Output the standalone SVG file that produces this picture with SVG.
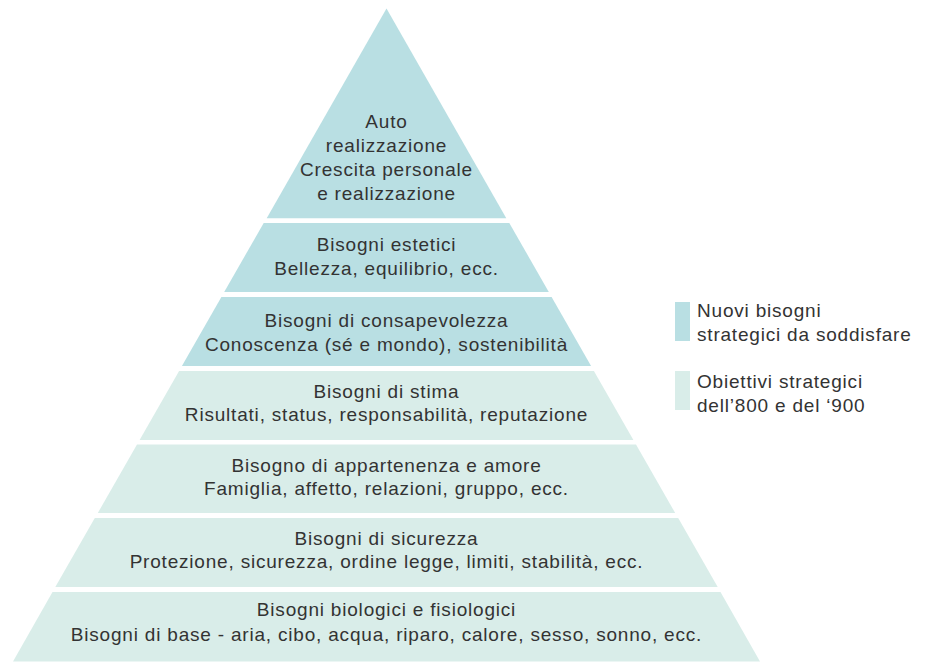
<svg xmlns="http://www.w3.org/2000/svg" width="927" height="668" viewBox="0 0 927 668">
<style>
.dark{fill:#b9dfe3}
.light{fill:#d9ede9}
text{font-family:"Liberation Sans",Arial,sans-serif;font-size:19px;letter-spacing:0.8px;fill:#333;text-anchor:middle}
.leg{text-anchor:start}
</style>
<rect width="927" height="668" fill="#fff"/>
<g id="level7-top">
<polygon class="dark" points="386.5,8.5 506.3,218.3 266.7,218.3"/>
<text x="386.5" y="128">Auto</text>
<text x="386.5" y="152">realizzazione</text>
<text x="386.5" y="176">Crescita personale</text>
<text x="386.5" y="200">e realizzazione</text>
</g>
<g id="level6-estetici">
<polygon class="dark" points="263.7,223 509.3,223 548.8,292 224.2,292"/>
<text x="386.5" y="251">Bisogni estetici</text>
<text x="386.5" y="275">Bellezza, equilibrio, ecc.</text>
</g>
<g id="level5-consapevolezza">
<polygon class="dark" points="221.4,297 551.6,297 591.1,366 181.9,366"/>
<text x="386.5" y="327">Bisogni di consapevolezza</text>
<text x="386.5" y="351">Conoscenza (sé e mondo), sostenibilità</text>
</g>
<g id="level4-stima">
<polygon class="light" points="179.1,371 593.9,371 633.4,440 139.6,440"/>
<text x="386.5" y="398">Bisogni di stima</text>
<text x="386.5" y="421">Risultati, status, responsabilità, reputazione</text>
</g>
<g id="level3-appartenenza">
<polygon class="light" points="137,444.5 636,444.5 675.2,513 97.8,513"/>
<text x="386.5" y="472">Bisogno di appartenenza e amore</text>
<text x="386.5" y="495">Famiglia, affetto, relazioni, gruppo, ecc.</text>
</g>
<g id="level2-sicurezza">
<polygon class="light" points="94.8,518 678.2,518 717.7,587 55.3,587"/>
<text x="386.5" y="545">Bisogni di sicurezza</text>
<text x="386.5" y="568">Protezione, sicurezza, ordine legge, limiti, stabilità, ecc.</text>
</g>
<g id="level1-biologici">
<polygon class="light" points="52.5,592 720.5,592 760,661.5 13,661.5"/>
<text x="386.5" y="616">Bisogni biologici e fisiologici</text>
<text x="386.5" y="641">Bisogni di base - aria, cibo, acqua, riparo, calore, sesso, sonno, ecc.</text>
</g>
<g id="legend">
<rect class="dark" x="675" y="302" width="15" height="39"/>
<text class="leg" x="697" y="317">Nuovi bisogni</text>
<text class="leg" x="697" y="341">strategici da soddisfare</text>
<rect class="light" x="675" y="371" width="15" height="39"/>
<text class="leg" x="697" y="388">Obiettivi strategici</text>
<text class="leg" x="697" y="412">dell’800 e del ‘900</text>
</g>
<g id="connectors"/>
</svg>
